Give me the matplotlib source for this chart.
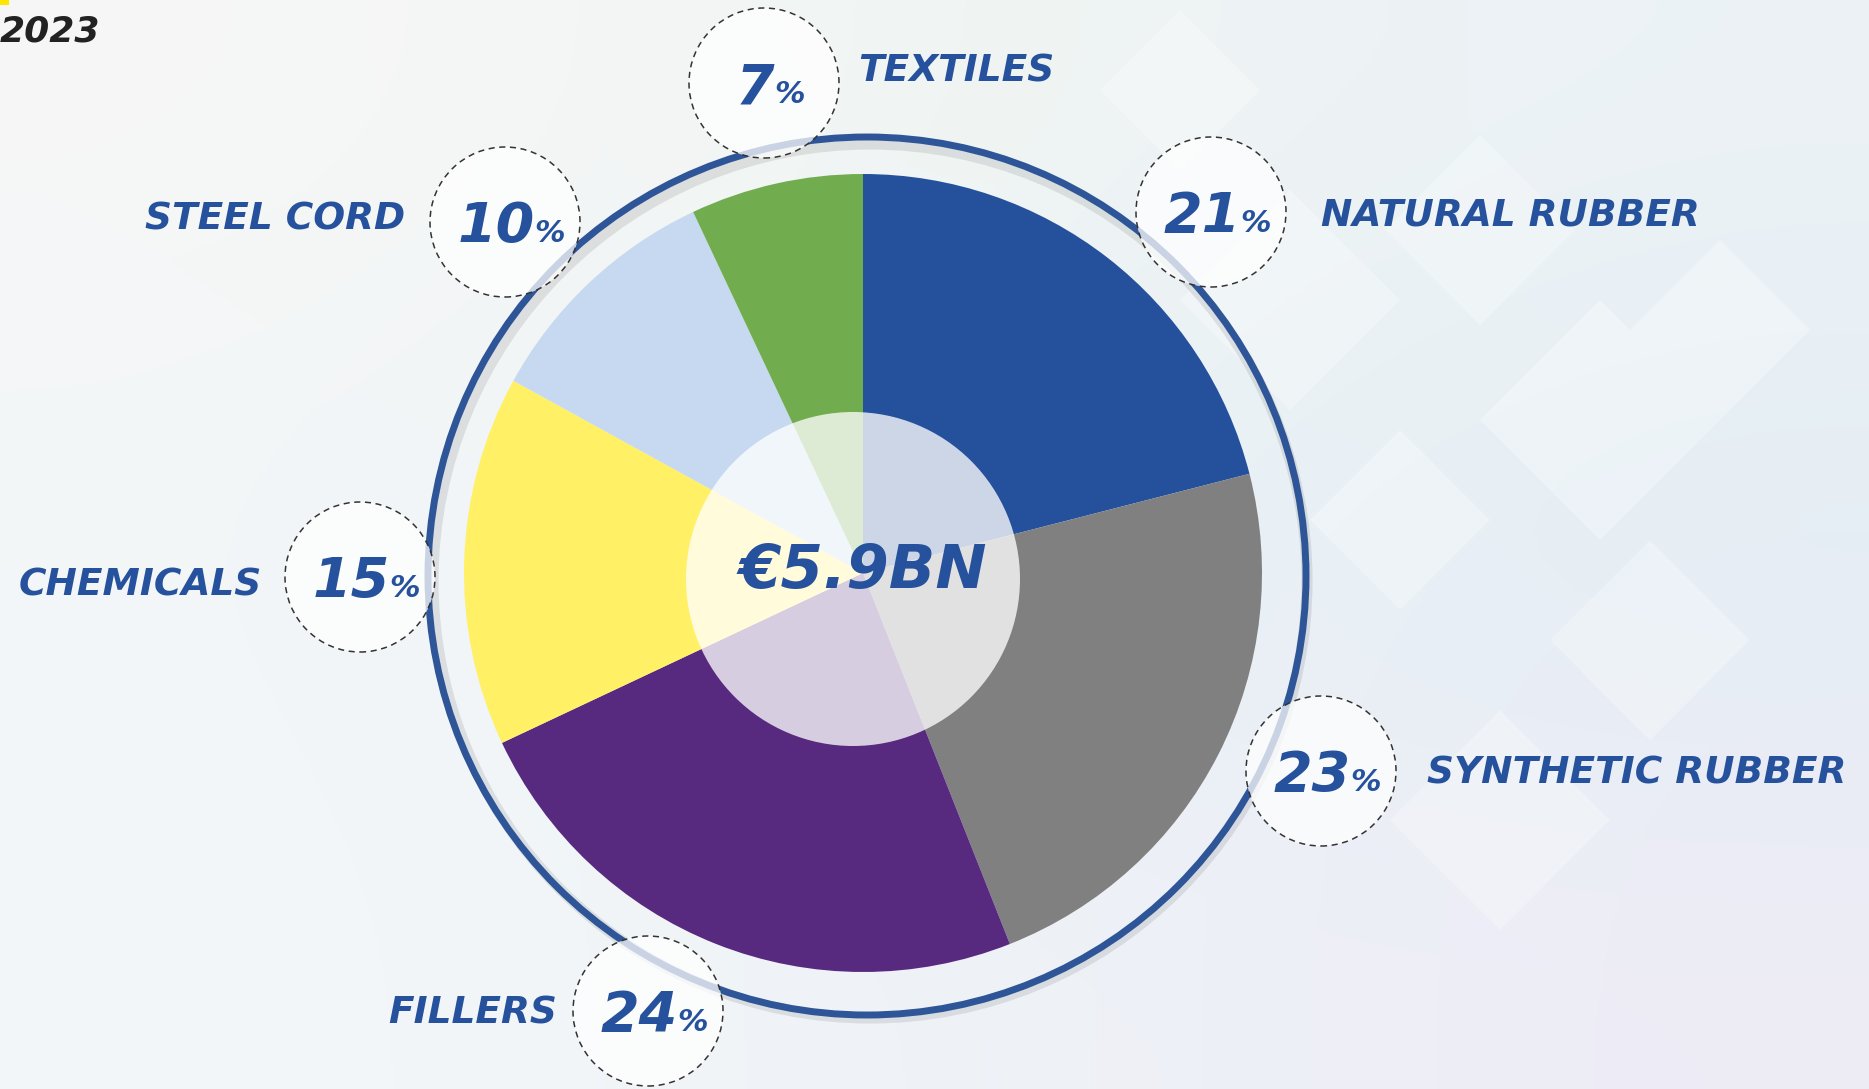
import matplotlib.pyplot as plt
import numpy as np
from matplotlib.patches import Circle, RegularPolygon, Rectangle

# Dados do gráfico (custo de matérias-primas)
categorias = ["NATURAL RUBBER", "SYNTHETIC RUBBER", "FILLERS", "CHEMICALS", "STEEL CORD", "TEXTILES"]
percentuais = [21, 23, 24, 15, 10, 7]
cores = ["#25519C", "#808080", "#572A7F", "#FFF066", "#C6D9F0", "#71AD4F"]
total = "€5.9BN"
ano = "2023"

W, H = 1869, 1089
azul = "#26519C"

# Layout (pixels, origem no topo): centro do círculo tracejado, posição do rótulo, alinhamento
circulos = [(1211, 212), (1321, 771), (648, 1011), (360, 577), (505, 222), (764, 83)]
rotulos = [(1321, 212, "left"), (1427, 771, "left"), (557, 1011, "right"),
           (262, 582, "right"), (405, 217, "right"), (858, 68, "left")]


def py(y):
    return H - y


fig = plt.figure(figsize=(W / 100, H / 100), dpi=100)
ax = fig.add_axes([0, 0, 1, 1])

# Fundo em degradê claro
fundo = np.array([
    [[247, 247, 247], [240, 245, 242], [236, 242, 246]],
    [[242, 246, 248], [236, 243, 247], [226, 237, 244]],
    [[244, 247, 249], [238, 243, 247], [238, 236, 246]],
]) / 255
ax.imshow(fundo, extent=(0, W, 0, H), interpolation="bicubic", zorder=0, aspect="auto")

# Losangos decorativos
for (x, y, r) in [(1290, 300, 110), (1480, 230, 95), (1600, 420, 120), (1400, 520, 90),
                  (1720, 330, 90), (1650, 640, 100), (1180, 90, 80), (1500, 820, 110)]:
    ax.add_patch(RegularPolygon((x, py(y)), 4, radius=r, orientation=0,
                                fc="white", ec="none", alpha=0.28, zorder=0.5))

# Pizza
ax.pie(percentuais, colors=cores, startangle=90, counterclock=False,
       center=(863, py(573)), radius=399, wedgeprops=dict(linewidth=0))

# Círculo central translúcido
ax.add_patch(Circle((853, py(579)), 167, fc="white", ec="none", alpha=0.77, zorder=3))

# Anel externo com sombra
ax.add_patch(Circle((870, py(581)), 437, fill=False, ec="black", lw=8, alpha=0.09, zorder=2))
ax.add_patch(Circle((867, py(576)), 439, fill=False, ec="#2E5597", lw=5, zorder=3))

ax.text(863, py(573) - 15, total, ha="center", va="baseline", fontsize=44,
        fontweight="heavy", fontstyle="italic", color=azul, zorder=6)

pares = []
for cat, pct, (cx, cy), (lx, ly, ha) in zip(categorias, percentuais, circulos, rotulos):
    ax.add_patch(Circle((cx, py(cy)), 75, fc=(1, 1, 1, 0.75), ec="#333333", lw=1.1,
                        ls=(0, (4, 3)), zorder=5))
    n = ax.text(cx, py(cy) - 20, str(pct), ha="right", va="baseline", fontsize=40,
                fontweight="heavy", fontstyle="italic", color=azul, zorder=6)
    p = ax.text(cx, py(cy) - 20, "%", ha="left", va="baseline", fontsize=22,
                fontweight="heavy", fontstyle="italic", color=azul, zorder=6)
    pares.append((n, p, cx))
    ax.text(lx, py(ly) - 13, cat, ha=ha, va="baseline", fontsize=27,
            fontweight="heavy", fontstyle="italic", color=azul, zorder=6)

# Ano e detalhe amarelo no canto
ax.text(0, py(42), ano, ha="left", va="baseline", fontsize=26,
        fontweight="heavy", fontstyle="italic", color="#222222", zorder=6)
ax.add_patch(Rectangle((0, H - 5), 9, 5, fc="#FFE600", ec="none", zorder=6))

ax.set_xlim(0, W)
ax.set_ylim(0, H)
ax.axis("off")

# Centralizando número + % dentro de cada círculo
fig.canvas.draw()
r = fig.canvas.get_renderer()
for n, p, cx in pares:
    b1 = n.get_window_extent(r)
    b2 = p.get_window_extent(r)
    desloc = cx + 6 - (b1.x0 + b2.x1) / 2
    for t in (n, p):
        x, y = t.get_position()
        t.set_position((x + desloc, y))

plt.savefig("out.png", dpi=100)
